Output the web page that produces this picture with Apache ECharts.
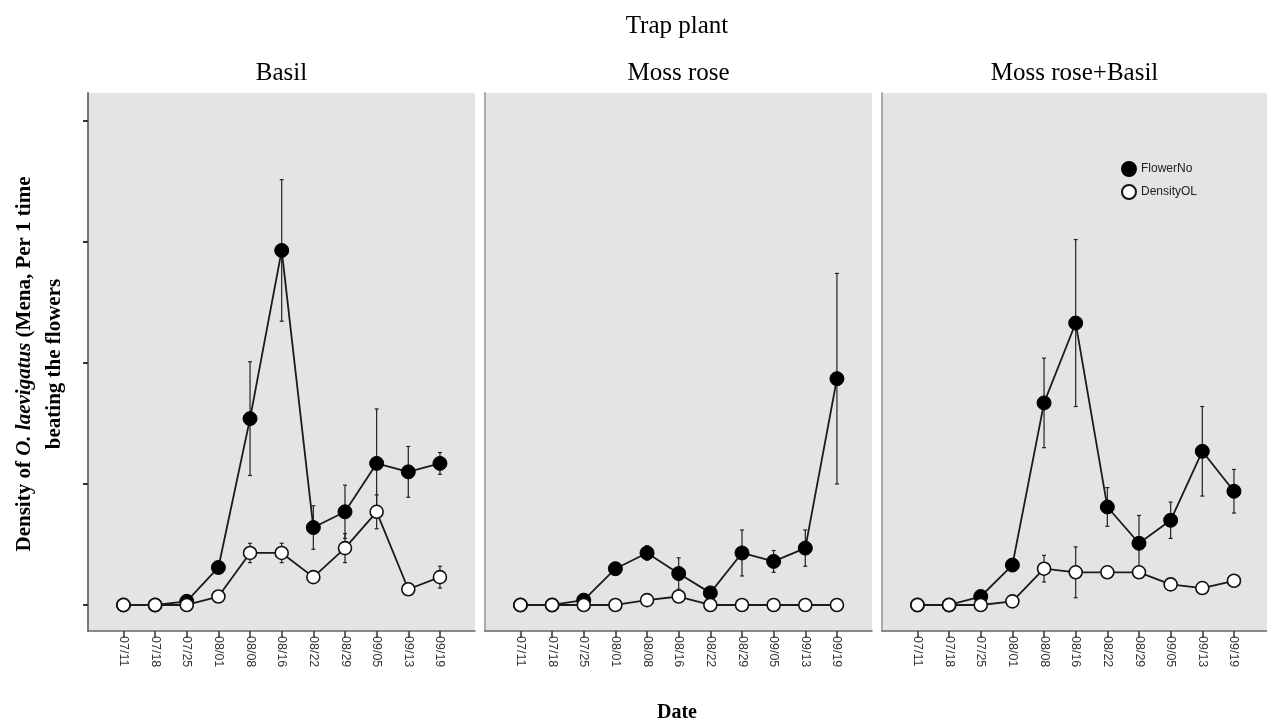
<!DOCTYPE html>
<html>
<head>
<meta charset="utf-8">
<script src="https://cdn.jsdelivr.net/npm/echarts@6/dist/echarts.min.js"></script>
<style>html,body{margin:0;padding:0;background:#fff;}#c{width:1267px;height:724px;}</style>
</head>
<body>
<div id="c"></div>
<script>
const categories = ['07/11','07/18','07/25','08/01','08/08','08/16','08/22','08/29','09/05','09/13','09/19'];
const panelTitles = ['Basil','Moss rose','Moss rose+Basil'];
const seriesNames = ['FlowerNo','DensityOL'];
const yTicks = [0,1,2,3,4];

const basilFlower     = [0,0,0.03,0.31,1.54,2.93,0.64,0.77,1.17,1.10,1.17];
const basilFlowerErr  = [0,0,0,0.03,0.47,0.585,0.18,0.22,0.45,0.21,0.09];
const basilDensity    = [0,0,0,0.07,0.43,0.43,0.23,0.47,0.77,0.13,0.23];
const basilDensityErr = [0,0,0,0,0.08,0.08,0.02,0.12,0.14,0.03,0.09];

const mossFlower      = [0,0,0.04,0.30,0.43,0.26,0.10,0.43,0.36,0.47,1.87];
const mossFlowerErr   = [0,0,0,0.04,0.06,0.13,0.04,0.19,0.09,0.15,0.87];
const mossDensity     = [0,0,0,0,0.04,0.07,0,0,0,0,0];
const mossDensityErr  = [0,0,0,0,0,0.04,0,0,0,0,0];

const mixFlower       = [0,0,0.07,0.33,1.67,2.33,0.81,0.51,0.70,1.27,0.94];
const mixFlowerErr    = [0,0,0,0,0.37,0.69,0.16,0.23,0.15,0.37,0.18];
const mixDensity      = [0,0,0,0.03,0.30,0.27,0.27,0.27,0.17,0.14,0.20];
const mixDensityErr   = [0,0,0,0,0.11,0.21,0,0,0,0.05,0.05];

const panelData = [
  [basilFlower, basilFlowerErr, basilDensity, basilDensityErr],
  [mossFlower, mossFlowerErr, mossDensity, mossDensityErr],
  [mixFlower, mixFlowerErr, mixDensity, mixDensityErr]
];

const chart = echarts.init(document.getElementById('c'));
const gridLefts = [88, 485, 882];
const gridWidths = [387, 387, 385];
const catIdx = categories.map((c,i)=>i);

const grids = [], xAxes = [], yAxes = [], series = [];
const errRender = function(params, api){
  const x = api.value(0), lo = api.value(1), hi = api.value(2);
  const p1 = api.coord([x, hi]), p2 = api.coord([x, lo]);
  const c = 2;
  const st = {stroke:'#222', lineWidth:1.2};
  return {type:'group', children:[
    {type:'line', shape:{x1:p1[0],y1:p1[1],x2:p2[0],y2:p2[1]}, style:st},
    {type:'line', shape:{x1:p1[0]-c,y1:p1[1],x2:p1[0]+c,y2:p1[1]}, style:st},
    {type:'line', shape:{x1:p2[0]-c,y1:p2[1],x2:p2[0]+c,y2:p2[1]}, style:st}
  ]};
};

for (let p=0;p<3;p++){
  grids.push({left:gridLefts[p], top:93, width:gridWidths[p], height:538, show:true, backgroundColor:'#e4e4e4', borderWidth:0});
  xAxes.push({type:'value', gridIndex:p, min:-1.12, max:10+ (gridWidths[p]-36-316)/31.6,
    splitLine:{show:false},
    axisLine:{show:true, onZero:false, lineStyle:{color:'#666', width:1.5}},
    axisTick:{show:true, length:7, customValues:catIdx, lineStyle:{color:'#333', width:1.5}},
    axisLabel:{show:true, customValues:catIdx, rotate:-90, margin:5, color:'#333', fontFamily:'Liberation Sans', fontSize:12.5,
      formatter:(v)=>categories[Math.round(v)]}
  });
  yAxes.push({type:'value', gridIndex:p, min:-0.215, max:4.231,
    splitLine:{show:false},
    axisLine:{show:true, onZero:false, lineStyle:{color: p===0 ? '#777' : '#aaa', width:2}},
    axisTick:{show:p===0, length:5, customValues:yTicks, lineStyle:{color:'#333', width:2}},
    axisLabel:{show:false}
  });
  const d = panelData[p];
  const mk = (vals, errs)=>vals.map((v,i)=>[i, v-errs[i], v+errs[i]]).filter((r,i)=>errs[i]>0);
  series.push({type:'custom', xAxisIndex:p, yAxisIndex:p, renderItem:errRender, encode:{x:0,y:[1,2]}, data:mk(d[0],d[1]), z:1, silent:true});
  series.push({type:'custom', xAxisIndex:p, yAxisIndex:p, renderItem:errRender, encode:{x:0,y:[1,2]}, data:mk(d[2],d[3]), z:1, silent:true});
  series.push({name:seriesNames[0], type:'line', xAxisIndex:p, yAxisIndex:p, z:3,
    data:d[0].map((v,i)=>[i,v]), symbol:'circle', symbolSize:14,
    lineStyle:{color:'#1a1a1a', width:1.8}, itemStyle:{color:'#000', borderColor:'#000', borderWidth:1}});
  series.push({name:seriesNames[1], type:'line', xAxisIndex:p, yAxisIndex:p, z:4,
    data:d[2].map((v,i)=>[i,v]), symbol:'circle', symbolSize:13,
    lineStyle:{color:'#1a1a1a', width:1.8}, itemStyle:{color:'#fff', borderColor:'#111', borderWidth:1.6}});
}

const serif = 'Liberation Serif';
const graphics = [
  {type:'text', x:677, y:26, style:{text:'Trap plant', font:'25px "Liberation Serif"', fill:'#000', align:'center', verticalAlign:'middle'}},
  {type:'text', x:677, y:713, style:{text:'Date', font:'bold 20px "Liberation Serif"', fill:'#000', align:'center', verticalAlign:'middle'}},
  {type:'text', x:40, y:364, rotation:Math.PI/2, style:{
    text:'{b|Density of }{i|O. laevigatus}{b| (Mena, Per 1 time}\n{b|beating the flowers}',
    align:'center', verticalAlign:'middle',
    rich:{
      b:{fontFamily:serif, fontWeight:'bold', fontSize:21, lineHeight:30, fill:'#000', color:'#000'},
      i:{fontFamily:serif, fontWeight:'bold', fontStyle:'italic', fontSize:21, lineHeight:30, fill:'#000', color:'#000'}
    }}}
];
for (let p=0;p<3;p++){
  graphics.push({type:'text', x:gridLefts[p]+gridWidths[p]/2, y:73, style:{text:panelTitles[p], font:'25px "Liberation Serif"', fill:'#000', align:'center', verticalAlign:'middle'}});
}

chart.setOption({
  animation:false,
  backgroundColor:'#fff',
  grid:grids, xAxis:xAxes, yAxis:yAxes, series:series,
  legend:{data:seriesNames, orient:'vertical', left:1116, top:156, itemWidth:14, itemHeight:14, itemGap:7, icon:'circle',
    textStyle:{fontFamily:'Liberation Sans', fontSize:12, color:'#222'}},
  graphic:graphics
});
</script>
</body>
</html>
